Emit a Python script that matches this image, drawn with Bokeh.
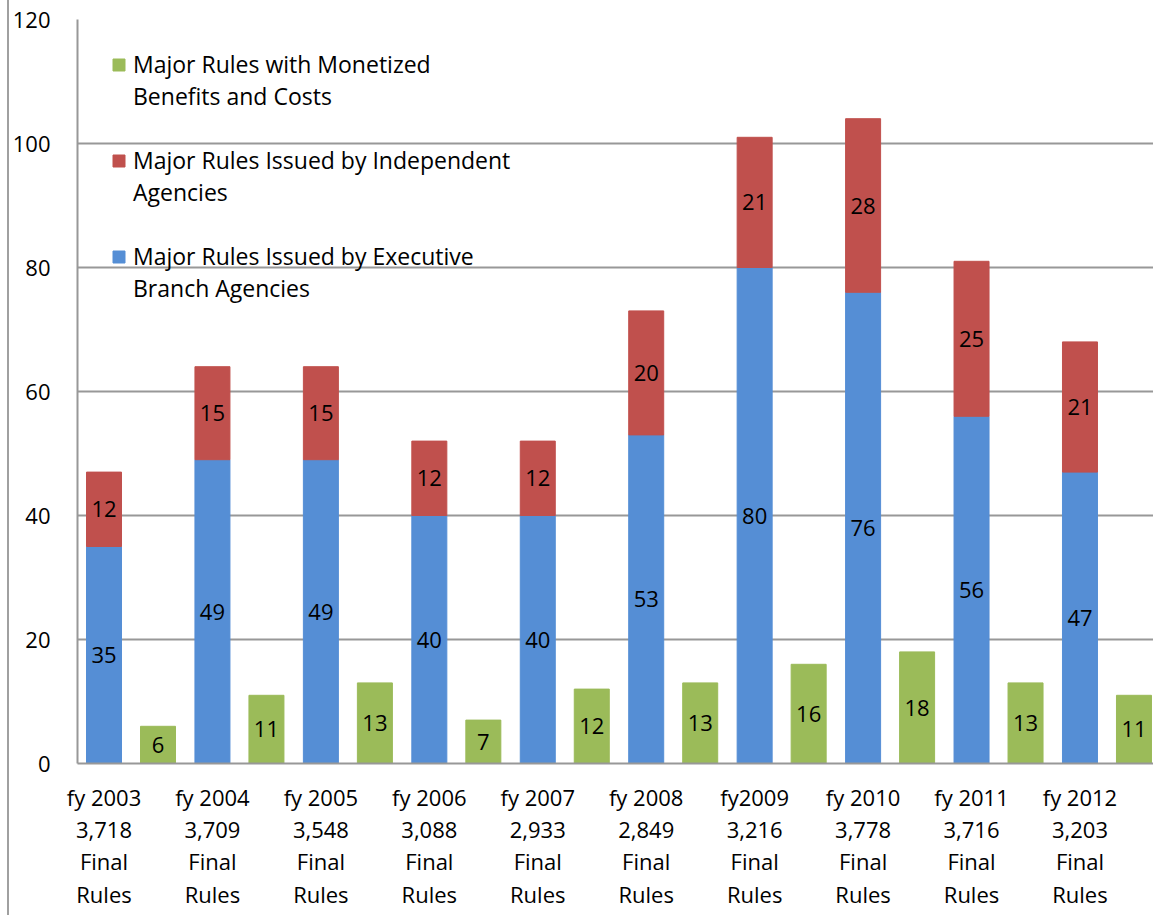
from bokeh.plotting import figure
from bokeh.models import ColumnDataSource, FixedTicker, Legend, LegendItem, LabelSet, Div
from bokeh.layouts import row
from bokeh.core.properties import value
from bokeh.embed import file_html
from bokeh.resources import INLINE

years = ["fy 2003", "fy 2004", "fy 2005", "fy 2006", "fy 2007", "fy 2008", "fy2009", "fy 2010", "fy 2011", "fy 2012"]
final_rules = ["3,718", "3,709", "3,548", "3,088", "2,933", "2,849", "3,216", "3,778", "3,716", "3,203"]
executive = [35, 49, 49, 40, 40, 53, 80, 76, 56, 47]
independent = [12, 15, 15, 12, 12, 20, 21, 28, 25, 21]
monetized = [6, 11, 13, 7, 12, 13, 16, 18, 13, 11]
y_ticks = [0, 20, 40, 60, 80, 100, 120]

FONT = "Open Sans"
FS = "22px"
LFS = "23px"
BLUE = "#558ED5"
RED = "#C0504D"
GREEN = "#9BBB59"
GRID = "#989898"

idx = list(range(len(years)))
x_green = [i + 0.498 for i in idx]
total = [e + d for e, d in zip(executive, independent)]

src = ColumnDataSource(dict(
    x=idx, xg=x_green, exe=executive, ind=independent, mon=monetized, tot=total,
    exe_mid=[e / 2 for e in executive],
    ind_mid=[e + d / 2 for e, d in zip(executive, independent)],
    mon_mid=[m / 2 for m in monetized],
    exe_t=[str(v) for v in executive], ind_t=[str(v) for v in independent],
    mon_t=[str(v) for v in monetized],
))

p = figure(frame_width=1076, frame_height=744, x_range=(-0.2444, 9.678), y_range=(0, 120),
           output_backend="svg", toolbar_location=None,
           min_border_left=68, min_border_right=0, min_border_top=19, min_border_bottom=10)
p.outline_line_color = None
p.background_fill_color = "white"
p.border_fill_color = "white"

W = 0.3228
r_exe = p.vbar(x="x", bottom=0, top="exe", width=W, color=BLUE, source=src)
r_ind = p.vbar(x="x", bottom="exe", top="tot", width=W, color=RED, source=src)
r_mon = p.vbar(x="xg", bottom=0, top="mon", width=W, color=GREEN, source=src)

for ycol, xcol, tcol in [("exe_mid", "x", "exe_t"), ("ind_mid", "x", "ind_t"), ("mon_mid", "xg", "mon_t")]:
    ls = LabelSet(x=xcol, y=ycol, text=tcol, source=src, text_align="center", text_baseline="middle",
                  text_font=value(FONT), text_font_size=value(FS), text_color="black")
    p.add_layout(ls)

# axes
p.xaxis.ticker = FixedTicker(ticks=idx)
p.xaxis.major_label_overrides = {i: f"{years[i]}\n{final_rules[i]}\nFinal\nRules" for i in idx}
p.xaxis.major_tick_line_color = None
p.xaxis.minor_tick_line_color = None
p.xaxis.major_tick_out = 0
p.xaxis.major_tick_in = 0
p.xaxis.axis_line_color = GRID
p.xaxis.axis_line_width = 2
p.xaxis.major_label_text_font = FONT
p.xaxis.major_label_text_font_size = FS
p.xaxis.major_label_text_color = "black"
p.xaxis.major_label_text_line_height = 1.08
p.xaxis.major_label_standoff = 18

p.yaxis.ticker = FixedTicker(ticks=y_ticks)
p.yaxis.major_tick_line_color = None
p.yaxis.minor_tick_line_color = None
p.yaxis.major_tick_out = 0
p.yaxis.major_tick_in = 0
p.yaxis.axis_line_color = GRID
p.yaxis.axis_line_width = 2
p.yaxis.major_label_text_font = FONT
p.yaxis.major_label_text_font_size = FS
p.yaxis.major_label_text_color = "black"
p.yaxis.major_label_standoff = 27

p.xgrid.grid_line_color = None
p.ygrid.grid_line_color = GRID
p.ygrid.grid_line_width = 2

legend = Legend(items=[
    LegendItem(label="Major Rules with Monetized", renderers=[r_mon]),
    LegendItem(label="Benefits and Costs", renderers=[]),
    LegendItem(label=" ", renderers=[]),
    LegendItem(label="Major Rules Issued by Independent", renderers=[r_ind]),
    LegendItem(label="Agencies", renderers=[]),
    LegendItem(label=" ", renderers=[]),
    LegendItem(label="Major Rules Issued by Executive", renderers=[r_exe]),
    LegendItem(label="Branch Agencies", renderers=[]),
], location=(34, 459))
legend.margin = 0
legend.padding = 0
legend.spacing = 0
legend.glyph_width = 15
legend.glyph_height = 15
legend.label_height = 32
legend.label_standoff = 7
legend.label_text_font = FONT
legend.label_text_font_size = LFS
legend.label_text_color = "black"
legend.label_text_line_height = 1.0
legend.background_fill_alpha = 0
legend.border_line_color = None
p.add_layout(legend)

edge = Div(width=9, height=915, margin=0,
           styles={"border-right": "2px solid #a0a0a0", "box-sizing": "border-box"})
layout = row(edge, p, spacing=0)

open("out.html", "w").write(file_html(layout, INLINE))
